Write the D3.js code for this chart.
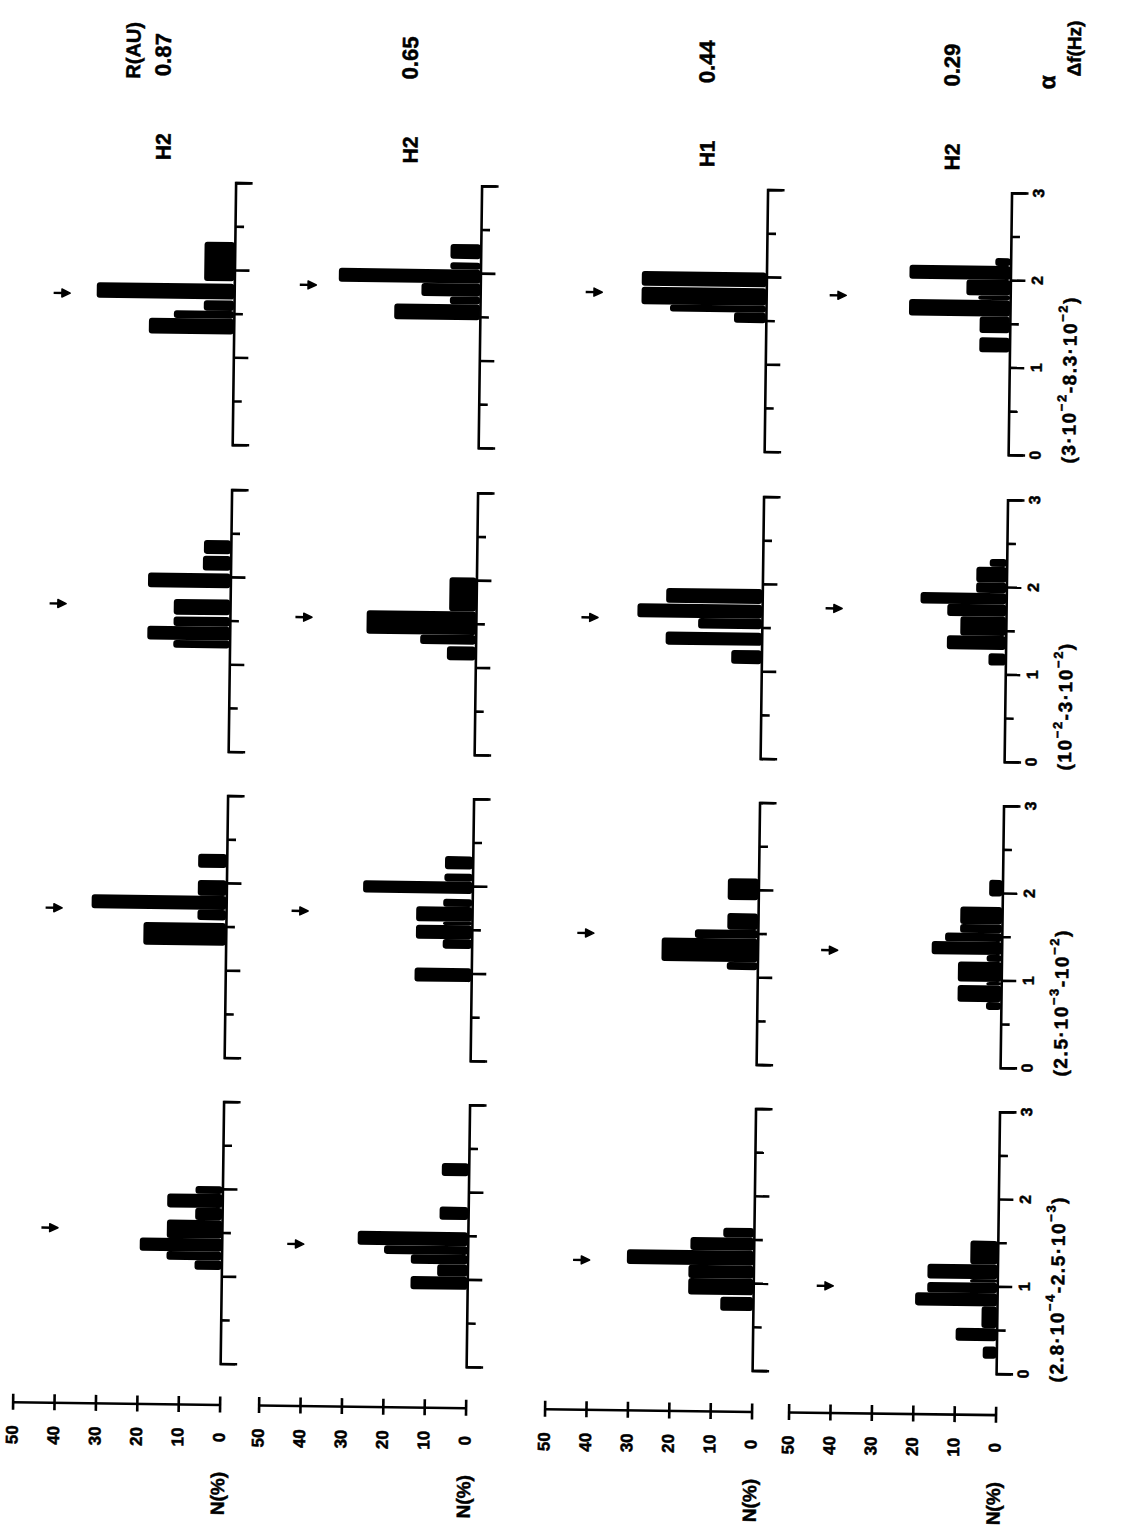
<!DOCTYPE html>
<html>
<head>
<meta charset="utf-8">
<script src="https://cdn.jsdelivr.net/npm/d3@7"></script>
<style>
  body { margin: 0; background: #fff; }
  text { font-family: "Liberation Sans", Arial, sans-serif; font-weight: bold; fill: #000; stroke: #000; stroke-width: 0.5px; }
</style>
</head>
<body>
<div id="chart"></div>
<script>

// R (AU) of each row of the original figure, with the data set label
const rValues = ["0.87", "0.65", "0.44", "0.29"];
const hLabels = ["H2", "H2", "H1", "H2"];

// frequency bands, low to high
const freqBands = ["(2.8·10^{−4}-2.5·10^{−3})", "(2.5·10^{−3}-10^{−2})", "(10^{−2}-3·10^{−2})", "(3·10^{−2}-8.3·10^{−2})"];

const alphaTicks = [0, 0.5, 1, 1.5, 2, 2.5, 3];
const nTicks = [0, 10, 20, 30, 40, 50];

// histogram bins per band: [alpha from, alpha to, N(%)]
const binsR087 = [
  [[1.07,1.18,6.5],[1.18,1.28,13.3],[1.28,1.43,19.8],[1.43,1.64,13.3],[1.64,1.78,6.5],[1.78,1.94,13.3],[1.94,2.03,6.5]],
  [[1.28,1.54,19.9],[1.57,1.69,6.9],[1.69,1.85,32.5],[1.85,2.03,6.9],[2.17,2.33,6.9]],
  [[1.18,1.27,13.6],[1.27,1.43,19.9],[1.43,1.54,13.6],[1.56,1.74,13.6],[1.87,2.04,19.9],[2.07,2.24,6.7],[2.26,2.42,6.5]],
  [[1.26,1.44,20.5],[1.44,1.53,14.5],[1.53,1.65,7.3],[1.66,1.84,33.2],[1.87,2.32,7.3]]
];
const binsR065 = [
  [[0.88,1.03,13.7],[1.03,1.17,7.3],[1.17,1.28,13.7],[1.28,1.38,20.2],[1.38,1.54,26.6],[1.68,1.83,6.9],[2.18,2.33,6.5]],
  [[0.90,1.06,13.7],[1.28,1.39,7],[1.39,1.55,13.5],[1.55,1.59,7],[1.59,1.76,13.5],[1.76,1.85,7],[1.91,2.05,26.4],[2.05,2.14,6.8],[2.19,2.34,6.7]],
  [[1.08,1.24,6.9],[1.26,1.37,13.4],[1.37,1.64,26.4],[1.64,2.03,6.5]],
  [[1.46,1.64,20.7],[1.64,1.73,7.3],[1.73,1.88,14.2],[1.88,2.04,34.2],[2.04,2.12,7.3],[2.16,2.33,7.3]]
];
const binsR044 = [
  [[0.68,0.84,7.9],[0.86,1.05,15.7],[1.05,1.20,15.7],[1.20,1.37,30.6],[1.37,1.52,15.3],[1.52,1.63,7.4]],
  [[1.08,1.17,7.4],[1.17,1.44,23.2],[1.44,1.54,15.2],[1.54,1.73,7.4],[1.88,2.13,7.4]],
  [[1.08,1.24,7.3],[1.29,1.44,23.2],[1.48,1.60,15.4],[1.60,1.76,30.1],[1.77,1.94,23.2]],
  [[1.47,1.59,7.7],[1.59,1.67,23.2],[1.67,1.87,30.1],[1.88,2.05,30.1]]
];
const binsR029 = [
  [[0.17,0.31,3.3],[0.37,0.52,9.9],[0.52,0.77,3.7],[0.77,0.92,19.8],[0.92,1.04,16.9],[1.04,1.08,6.6],[1.08,1.25,16.9],[1.25,1.52,6.6]],
  [[0.66,0.75,3.6],[0.75,0.94,10.5],[0.94,0.98,3.6],[0.98,1.21,10.5],[1.21,1.29,3.6],[1.29,1.44,16.9],[1.44,1.54,13.7],[1.54,1.64,10.1],[1.64,1.84,10.1],[1.96,2.15,3.2]],
  [[1.10,1.24,4.1],[1.28,1.44,14.2],[1.44,1.66,11.0],[1.66,1.80,14.2],[1.80,1.93,20.7],[1.93,2.05,7.3],[2.05,2.23,7.3],[2.23,2.32,4.1]],
  [[1.17,1.34,7.3],[1.39,1.58,7.3],[1.58,1.77,24.4],[1.77,1.82,7.7],[1.82,2.0,10.6],[2.0,2.16,24.4],[2.16,2.25,3.7]]
];
const allBins = [binsR087, binsR065, binsR044, binsR029];

// mean alpha (arrow) per band
const meanR087 = [1.53, 1.69, 1.67, 1.71];
const meanR065 = [1.38, 1.69, 1.55, 1.84];
const meanR044 = [1.24, 1.48, 1.59, 1.80];
const meanR029 = [0.98, 1.32, 1.73, 1.80];
const allMeans = [meanR087, meanR065, meanR044, meanR029];

/* layout: the page shows the figure turned a quarter turn, N runs leftward, alpha upward */
const W = 1135, H = 1534;
const colBase = [228, 474, 760, 1004];   // N = 0 line of each R row
const bandZero = [1368, 1062, 756, 449]; // alpha = 0 of each band
const panelH = 262, nLen = 207;
const labelX = [154, 401, 698, 943];
const arrowN = 41;

const svg = d3.select("#chart").append("svg")
    .attr("width", W)
    .attr("height", H);

// the scan is a little skewed
const g = svg.append("g").attr("transform", "rotate(0.75,567,767)");

function vtext(parent, x, y, str, size, anchor) {
  return parent.append("text")
    .attr("transform", `translate(${x},${y}) rotate(-90)`)
    .attr("text-anchor", anchor || "middle")
    .attr("dominant-baseline", "central")
    .attr("font-size", size)
    .text(str);
}

// text with ^{..} superscripts
function supText(parent, x, y, str, size) {
  const t = parent.append("text")
    .attr("transform", `translate(${x},${y}) rotate(-90)`)
    .attr("text-anchor", "start")
    .attr("dominant-baseline", "central")
    .attr("font-size", size)
    .attr("letter-spacing", 1.6);
  const parts = str.split(/(\^\{[^}]*\})/).filter(p => p.length);
  let up = false;
  parts.forEach(p => {
    if (p.startsWith("^{")) {
      t.append("tspan").attr("font-size", size * 0.68).attr("dy", -size * 0.4).text(p.slice(2, -1));
      up = true;
    } else {
      t.append("tspan").attr("dy", up ? size * 0.4 : 0).text(p);
      up = false;
    }
  });
}

rValues.forEach(function(rv, c) {
  const x = d3.scaleLinear().domain([0, 50]).range([colBase[c], colBase[c] - nLen]);

  freqBands.forEach(function(fb, b) {
    const y = d3.scaleLinear().domain([0, 3]).range([bandZero[b], bandZero[b] - panelH]);
    const panel = g.append("g");

    /* bars */
    panel.selectAll("rect")
      .data(allBins[c][b])
      .enter()
      .append("rect")
      .attr("x", d => x(d[2]))
      .attr("y", d => y(d[1]))
      .attr("width", d => x(0) - x(d[2]))
      .attr("height", d => y(d[0]) - y(d[1]))
      .attr("rx", 3)
      .attr("fill", "#000");

    /* alpha axis */
    const ax = panel.append("g")
      .attr("transform", `translate(${x(0)},0)`)
      .call(d3.axisRight(y).tickValues(alphaTicks).tickSize(14).tickSizeOuter(17).tickFormat(""));
    ax.selectAll("path, line").attr("stroke", "#000").attr("stroke-width", 2.6);
    ax.selectAll(".tick line").attr("x2", d => (d % 1 === 0 ? 15 : 9));
    ax.selectAll(".tick text").remove();

    if (c === 3) {
      [0, 1, 2, 3].forEach(v => vtext(panel, x(0) + 27, y(v), String(v), 16));
      supText(panel, x(0) + 60, y(0) + 8, fb, 19);
    }

    /* mean arrow */
    const ya = y(allMeans[c][b]);
    panel.append("line")
      .attr("x1", x(arrowN + 2.6)).attr("x2", x(arrowN))
      .attr("y1", ya).attr("y2", ya)
      .attr("stroke", "#000").attr("stroke-width", 2.4);
    panel.append("path")
      .attr("d", `M${x(arrowN + 0.6)},${ya - 4} L${x(arrowN - 1.4)},${ya} L${x(arrowN + 0.6)},${ya + 4} Z`)
      .attr("fill", "#000").attr("stroke", "#000").attr("stroke-width", 1.5).attr("stroke-linejoin", "round");
  });

  /* N axis */
  const nAx = g.append("g")
    .attr("transform", "translate(0,1409)")
    .call(d3.axisBottom(x).tickValues(nTicks).tickSize(8).tickSizeOuter(0).tickFormat(""));
  nAx.selectAll("path, line").attr("stroke", "#000").attr("stroke-width", 2.6);
  nAx.selectAll(".tick line").attr("y1", -8);
  nAx.selectAll(".tick text").remove();
  nTicks.forEach(v => vtext(g, x(v), 1442, String(v), 17));
  vtext(g, x(0) - 1, 1498, "N(%)", 19);

  /* row labels */
  vtext(g, labelX[c], 60, rv, 22);
  vtext(g, labelX[c] + 1, 152, hLabels[c], 21);
});

vtext(g, labelX[0] - 30, 56, "R(AU)", 20);
vtext(g, colBase[3] + 34, 76, "α", 23);
vtext(g, colBase[3] + 61, 42, "Δf(Hz)", 19);

</script>
</body>
</html>
